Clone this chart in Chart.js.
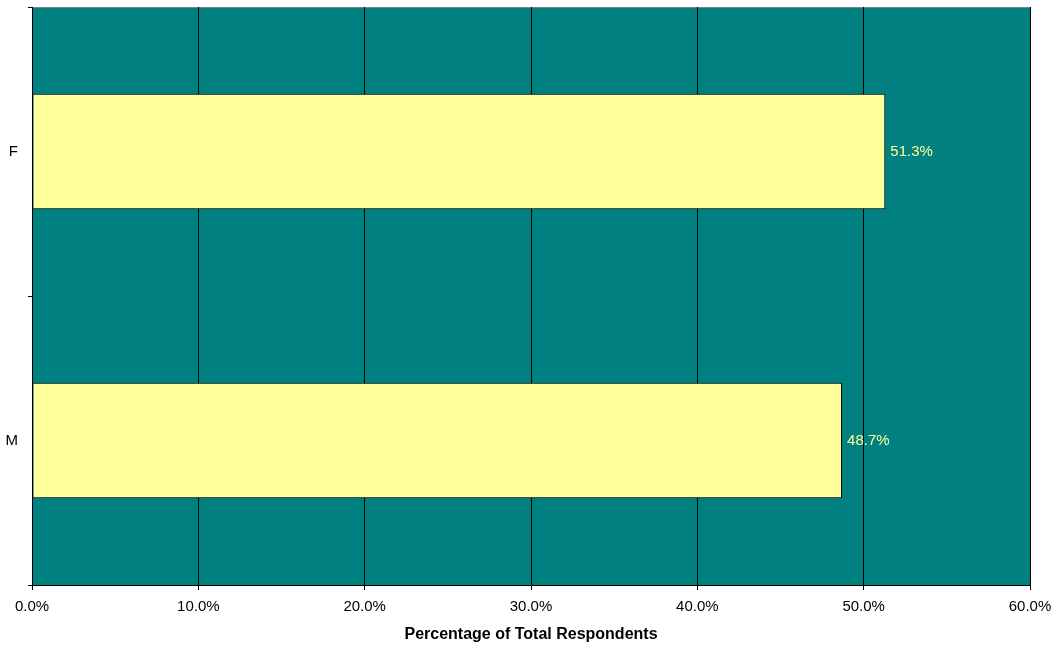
<!DOCTYPE html>
<html>
<head>
<meta charset="utf-8">
<script src="https://cdn.jsdelivr.net/npm/chart.js@4/dist/chart.umd.min.js"></script>
<style>
  html, body { margin: 0; padding: 0; background: #fff; }
  #wrap { width: 1060px; height: 650px; }
</style>
</head>
<body>
<div id="wrap"><canvas id="genderChart"></canvas></div>
<script>
const categories = ['F', 'M'];
const percentValues = [51.3, 48.7];
const xTicks = [0, 10, 20, 30, 40, 50, 60];

// teal plot area behind bars
const plotBg = {
    id: 'plotBg',
    beforeDraw(chart) {
        const a = chart.chartArea;
        const c = chart.ctx;
        c.save();
        c.fillStyle = '#008080';
        c.fillRect(a.left, a.top, a.right - a.left, a.bottom - a.top);
        c.strokeStyle = '#808080';
        c.lineWidth = 1;
        c.beginPath();
        c.moveTo(a.left, a.top + 0.5);
        c.lineTo(a.right, a.top + 0.5);
        c.stroke();
        c.restore();
    }
};

// value labels at the end of each bar
const barLabels = {
    id: 'barLabels',
    afterDatasetsDraw(chart) {
        const c = chart.ctx;
        const meta = chart.getDatasetMeta(0);
        c.save();
        c.font = '15px "Liberation Sans", Arial, sans-serif';
        c.fillStyle = '#FFFF99';
        c.textAlign = 'left';
        c.textBaseline = 'middle';
        meta.data.forEach((bar, i) => {
            c.fillText(percentValues[i].toFixed(1) + '%', bar.x + 5, bar.y);
        });
        c.restore();
    }
};

const ctx = document.getElementById('genderChart').getContext('2d');
const genderChart = new Chart(ctx, {
    type: 'bar',
    data: {
        labels: categories,
        datasets: [{
            data: percentValues,
            backgroundColor: '#FFFF99',
            borderColor: '#000000',
            borderWidth: 1,
            borderSkipped: false,
            barPercentage: 0.4,
            categoryPercentage: 1.0
        }]
    },
    options: {
        indexAxis: 'y',
        responsive: true,
        maintainAspectRatio: false,
        animation: false,
        layout: {
            padding: { top: 7, right: 30, left: 0, bottom: 0 }
        },
        plugins: {
            legend: { display: false },
            tooltip: { enabled: false }
        },
        scales: {
            x: {
                min: 0,
                max: 60,
                afterBuildTicks(scale) {
                    scale.ticks = xTicks.map(v => ({ value: v }));
                },
                afterFit(scale) { scale.height = 65; },
                grid: {
                    color: '#000000',
                    lineWidth: 1,
                    drawOnChartArea: true,
                    drawTicks: true,
                    tickLength: 5
                },
                border: { color: '#000000', width: 1 },
                ticks: {
                    color: '#000000',
                    font: { family: '"Liberation Sans", Arial, sans-serif', size: 15 },
                    padding: 8,
                    maxRotation: 0,
                    callback: (v) => Number(v).toFixed(1) + '%'
                },
                title: {
                    display: true,
                    text: 'Percentage of Total Respondents',
                    color: '#000000',
                    font: { family: '"Liberation Sans", Arial, sans-serif', size: 16, weight: 'bold' },
                    padding: { top: 6, bottom: 6 }
                }
            },
            y: {
                afterFit(scale) {
                    scale.width = 32;
                    scale.paddingTop = 0;
                    scale.paddingBottom = 0;
                },
                grid: {
                    offset: true,
                    drawOnChartArea: false,
                    drawTicks: true,
                    tickLength: 4,
                    color: '#000000'
                },
                border: { color: '#000000', width: 1 },
                ticks: {
                    color: '#000000',
                    font: { family: '"Liberation Sans", Arial, sans-serif', size: 15 },
                    padding: 10
                }
            }
        }
    },
    plugins: [plotBg, barLabels]
});
</script>
</body>
</html>
